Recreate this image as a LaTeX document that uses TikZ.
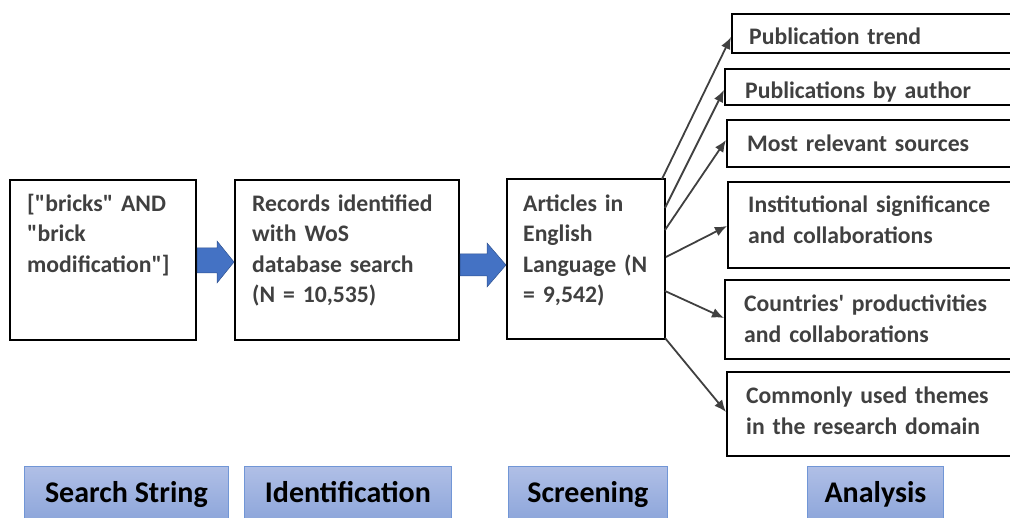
\documentclass[tikz,border=0pt]{standalone}
\usepackage{fontspec}
\setmainfont{Carlito}
\usetikzlibrary{arrows.meta}
\definecolor{txtgray}{HTML}{404040}
\definecolor{arrblue}{HTML}{4472C4}
\definecolor{arrborder}{HTML}{2F528F}
\definecolor{labtop}{HTML}{B0BFE6}
\definecolor{labbot}{HTML}{8CA5DA}
\definecolor{labborder}{HTML}{7196D6}
\definecolor{conn}{HTML}{404040}
\begin{document}
\begin{tikzpicture}[x=1pt,y=-1pt,
  boxstyle/.style={draw=black,line width=2pt,inner sep=0pt},
  boxtext/.style={anchor=base west,inner sep=0pt,text=txtgray,font=\fontsize{23.7}{30.5}\selectfont\bfseries,align=left,text width=270pt},
  labstyle/.style={draw=labborder,line width=0.8pt,top color=labtop,bottom color=labbot,inner sep=0pt},
  labtext/.style={anchor=base,inner sep=0pt,font=\fontsize{30}{34}\selectfont\bfseries,text=black},
  conarrow/.style={draw=conn,line width=1.8pt,-{Latex[length=12pt,width=10pt]}},
  blockarrow/.style={fill=arrblue,draw=arrborder,line width=0.5pt}
]
\useasboundingbox (0,0) rectangle (1010,518);
% main boxes
\node[boxstyle,minimum width=186pt,minimum height=160pt] (b1) at (103,260) {};
\node[boxstyle,minimum width=224pt,minimum height=160pt] (b2) at (347,260) {};
\node[boxstyle,minimum width=158pt,minimum height=160pt] (b3) at (586,259) {};
\node[boxtext] (t1) at (27,211.5) {[\textquotedbl bricks\textquotedbl{} AND\\\textquotedbl brick\\modification\textquotedbl]};
\node[boxtext] (t2) at (252,211.5) {Records identified\\with WoS\\database search\\(N = 10,535)};
\node[boxtext] (t3) at (523,211.5) {Articles in\\English\\Language (N\\= 9,542)};
% right boxes (open to the right edge)
\node[boxstyle,anchor=north west,minimum width=290pt,minimum height=39pt] (ra) at (731,13) {};
\node[boxstyle,anchor=north west,minimum width=295pt,minimum height=36pt] (rb) at (724,68) {};
\node[boxstyle,anchor=north west,minimum width=293pt,minimum height=47pt] (rc) at (726,119) {};
\node[boxstyle,anchor=north west,minimum width=292pt,minimum height=86pt] (rd) at (727,181) {};
\node[boxstyle,anchor=north west,minimum width=295pt,minimum height=79pt] (re) at (724,279) {};
\node[boxstyle,anchor=north west,minimum width=293pt,minimum height=84pt] (rf) at (726,371) {};
\node[boxtext] (ta) at (749,45) {Publication trend};
\node[boxtext] (tb) at (745,99) {Publications by author};
\node[boxtext] (tc) at (747,152) {Most relevant sources};
\node[boxtext] (td) at (748,213) {Institutional significance\\and collaborations};
\node[boxtext] (te) at (744,312) {Countries\textquotesingle{} productivities\\and collaborations};
\node[boxtext] (tf) at (746,404) {Commonly used themes\\in the research domain};
% block arrows
\draw[blockarrow] (b1.east |- 0,248) -- (217,248) -- (217,241) -- (b2.west |- 0,262) -- (217,283) -- (217,273) -- (b1.east |- 0,273) -- cycle;
\draw[blockarrow] (b2.east |- 0,254) -- (487,254) -- (487,243) -- (b3.west |- 0,265) -- (487,287) -- (487,276) -- (b2.east |- 0,276) -- cycle;
% connectors
\coordinate (s1) at (662,179);
\coordinate (s2) at (665,208);
\coordinate (s3) at (665,230);
\coordinate (s4) at (666,257);
\coordinate (s5) at (665,291);
\coordinate (s6) at (665,338);
\draw[conarrow] (s1) -- (ra.west |- 0,37);
\draw[conarrow] (s2) -- (rb.west |- 0,90);
\draw[conarrow] (s3) -- (rc.west |- 0,140);
\draw[conarrow] (s4) -- (rd.west |- 0,226);
\draw[conarrow] (s5) -- (re.west |- 0,318);
\draw[conarrow] (s6) -- (rf.west |- 0,412);
% stage labels
\node[labstyle,anchor=north west,minimum width=204pt,minimum height=56pt] (l1) at (24,466) {};
\node[labstyle,anchor=north west,minimum width=207pt,minimum height=56pt] (l2) at (244,466) {};
\node[labstyle,anchor=north west,minimum width=159pt,minimum height=56pt] (l3) at (508,466) {};
\node[labstyle,anchor=north west,minimum width=136pt,minimum height=56pt] (l4) at (807,466) {};
\node[labtext] at (l1.center |- 0,503) {Search String};
\node[labtext] at (l2.center |- 0,503) {Identification};
\node[labtext] at (l3.center |- 0,503) {Screening};
\node[labtext] at (l4.center |- 0,503) {Analysis};
\end{tikzpicture}
\end{document}
